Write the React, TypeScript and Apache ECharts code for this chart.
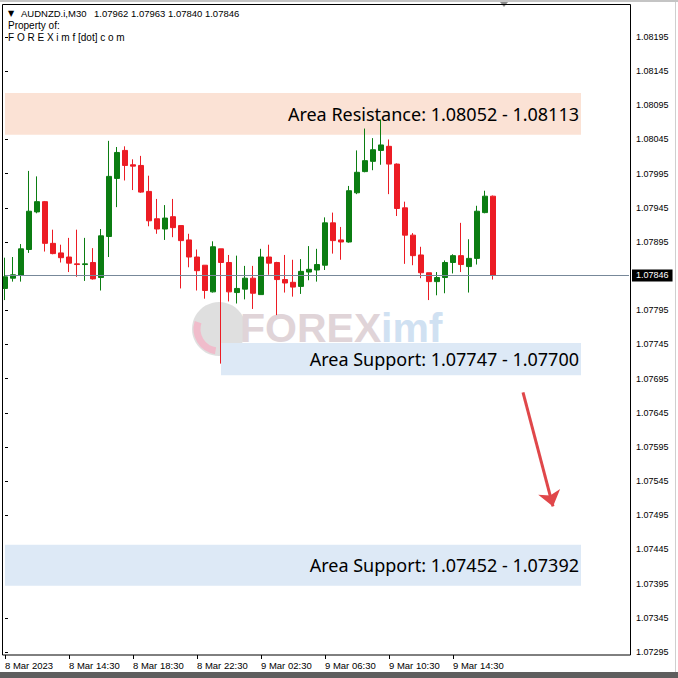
import React, { useEffect, useRef } from 'react';
import * as echarts from 'echarts';

// 30-minute bars, AUDNZD.i M30
const times = [
  '8 Mar 10:30', '8 Mar 11:00', '8 Mar 11:30', '8 Mar 12:00', '8 Mar 12:30', '8 Mar 13:00', '8 Mar 13:30', '8 Mar 14:00',
  '8 Mar 14:30', '8 Mar 15:00', '8 Mar 15:30', '8 Mar 16:00', '8 Mar 16:30', '8 Mar 17:00', '8 Mar 17:30', '8 Mar 18:00',
  '8 Mar 18:30', '8 Mar 19:00', '8 Mar 19:30', '8 Mar 20:00', '8 Mar 20:30', '8 Mar 21:00', '8 Mar 21:30', '8 Mar 22:00',
  '8 Mar 22:30', '8 Mar 23:00', '8 Mar 23:30', '9 Mar 00:00', '9 Mar 00:30', '9 Mar 01:00', '9 Mar 01:30', '9 Mar 02:00',
  '9 Mar 02:30', '9 Mar 03:00', '9 Mar 03:30', '9 Mar 04:00', '9 Mar 04:30', '9 Mar 05:00', '9 Mar 05:30', '9 Mar 06:00',
  '9 Mar 06:30', '9 Mar 07:00', '9 Mar 07:30', '9 Mar 08:00', '9 Mar 08:30', '9 Mar 09:00', '9 Mar 09:30', '9 Mar 10:00',
  '9 Mar 10:30', '9 Mar 11:00', '9 Mar 11:30', '9 Mar 12:00', '9 Mar 12:30', '9 Mar 13:00', '9 Mar 13:30', '9 Mar 14:00',
  '9 Mar 14:30', '9 Mar 15:00', '9 Mar 15:30', '9 Mar 16:00', '9 Mar 16:30', '9 Mar 17:00',
];

const opens = [
  1.07827, 1.07842, 1.07846, 1.07884, 1.07939, 1.07954, 1.07893, 1.07879, 1.07873, 1.07863,
  1.07862, 1.07865, 1.07843, 1.07903, 1.07988, 1.08029, 1.08008, 1.08007, 1.07969, 1.07929,
  1.07914, 1.07932, 1.07919, 1.07898, 1.07873, 1.07861, 1.07822, 1.07885, 1.07865, 1.07821,
  1.07826, 1.07842, 1.07818, 1.07873, 1.07865, 1.07840, 1.07836, 1.07830, 1.07851, 1.07854,
  1.07861, 1.07923, 1.07898, 1.07895, 1.07967, 1.07998, 1.08013, 1.08029, 1.08035, 1.08009,
  1.07945, 1.07905, 1.07876, 1.07850, 1.07837, 1.07843, 1.07865, 1.07875, 1.07859, 1.07871,
  1.07938, 1.07962,
];
const closes = [
  1.07844, 1.07847, 1.07885, 1.07940, 1.07954, 1.07893, 1.07878, 1.07872, 1.07864, 1.07862,
  1.07863, 1.07841, 1.07904, 1.07991, 1.08026, 1.08007, 1.08006, 1.07968, 1.07926, 1.07914,
  1.07930, 1.07916, 1.07897, 1.07873, 1.07853, 1.07824, 1.07888, 1.07865, 1.07822, 1.07827,
  1.07842, 1.07820, 1.07873, 1.07864, 1.07840, 1.07835, 1.07829, 1.07852, 1.07855, 1.07862,
  1.07923, 1.07897, 1.07895, 1.07970, 1.07997, 1.08014, 1.08030, 1.08037, 1.08009, 1.07944,
  1.07905, 1.07875, 1.07850, 1.07837, 1.07843, 1.07865, 1.07875, 1.07862, 1.07871, 1.07940,
  1.07962, 1.07846,
];
const lows = [
  1.07810, 1.07837, 1.07837, 1.07879, 1.07937, 1.07881, 1.07877, 1.07865, 1.07851, 1.07844,
  1.07838, 1.07840, 1.07824, 1.07873, 1.07946, 1.07985, 1.07971, 1.07967, 1.07918, 1.07907,
  1.07898, 1.07902, 1.07827, 1.07858, 1.07824, 1.07812, 1.07821, 1.07717, 1.07808, 1.07805,
  1.07811, 1.07797, 1.07818, 1.07847, 1.07788, 1.07821, 1.07815, 1.07819, 1.07839, 1.07837,
  1.07854, 1.07878, 1.07869, 1.07894, 1.07965, 1.07997, 1.08000, 1.08008, 1.07965, 1.07933,
  1.07863, 1.07861, 1.07842, 1.07810, 1.07817, 1.07820, 1.07849, 1.07851, 1.07821, 1.07862,
  1.07937, 1.07840,
];
const highs = [
  1.07872, 1.07873, 1.07892, 1.07999, 1.07991, 1.07955, 1.07913, 1.07891, 1.07901, 1.07913,
  1.07901, 1.07886, 1.07914, 1.08043, 1.08034, 1.08035, 1.08016, 1.08021, 1.07992, 1.07958,
  1.07949, 1.07958, 1.07919, 1.07907, 1.07884, 1.07861, 1.07896, 1.07885, 1.07876, 1.07875,
  1.07860, 1.07860, 1.07885, 1.07891, 1.07866, 1.07876, 1.07869, 1.07870, 1.07889, 1.07885,
  1.07931, 1.07938, 1.07917, 1.07977, 1.08029, 1.08061, 1.08047, 1.08074, 1.08045, 1.08010,
  1.07954, 1.07908, 1.07888, 1.07850, 1.07851, 1.07868, 1.07877, 1.07923, 1.07899, 1.07948,
  1.07970, 1.07963,
];

const xTickLabels = ['8 Mar 2023', '8 Mar 14:30', '8 Mar 18:30', '8 Mar 22:30', '9 Mar 02:30', '9 Mar 06:30', '9 Mar 10:30', '9 Mar 14:30'];
const yTickValues = [
  1.07295, 1.07345, 1.07395, 1.07445, 1.07495, 1.07545, 1.07595, 1.07645, 1.07695, 1.07745,
  1.07795, 1.07895, 1.07945, 1.07995, 1.08045, 1.08095, 1.08145, 1.08195,
];

const zoneNames = ['Area Resistance: 1.08052 - 1.08113', 'Area Support: 1.07747 - 1.07700', 'Area Support: 1.07452 - 1.07392'];
const zoneHigh = [1.08113, 1.07747, 1.07452];
const zoneLow = [1.08052, 1.07700, 1.07392];
const zoneStart = [-0.25, 27, -0.25];
const zoneEnd = [72, 72, 72];
const zoneColors = ['#fbe2d5', '#dde9f6', '#dde9f6'];

const arrowFrom = [64.75, 1.07675];
const arrowTo = [68.5, 1.07508];

const TOTAL_SLOTS = 79;
const Y_MIN = 1.072906;
const Y_MAX = 1.082418;

export default function App() {
  const ref = useRef<HTMLDivElement>(null);

  useEffect(() => {
    if (!ref.current) return;
    const chart = echarts.init(ref.current, undefined, { renderer: 'svg' });

    const pad = Array.from({ length: TOTAL_SLOTS - times.length }, (_, i) => 'future ' + (i + 1));
    const categories = times.concat(pad);
    const candles = opens.map((o, i) => [o, closes[i], lows[i], highs[i]]);
    const last = candles.length - 1;
    const headerValues = [opens[last], highs[last], lows[last], closes[last]].map((v) => v.toFixed(5)).join(' ');

    const bull = '#0b7d12';
    const bear = '#ec1c24';
    const labelFont = 'Liberation Sans, Arial, sans-serif';
    const showTick = (i: number) => i % 8 === 0 && i / 8 < xTickLabels.length;

    const zones = zoneNames.map((name, i) => [
      {
        name,
        xAxis: zoneStart[i],
        yAxis: zoneHigh[i],
        itemStyle: { color: zoneColors[i], opacity: 1 },
        label: {
          show: true,
          position: 'insideRight',
          distance: 2,
          formatter: '{b}',
          color: '#000',
          fontSize: 18,
          fontFamily: 'Noto Sans, sans-serif',
        },
      },
      { xAxis: zoneEnd[i], yAxis: zoneLow[i] },
    ]);

    chart.setOption({
      animation: false,
      backgroundColor: '#ffffff',
      grid: { left: 5, right: 49, top: 5, bottom: 23, containLabel: false },
      xAxis: [
        {
          type: 'category',
          data: categories,
          boundaryGap: false,
          axisLine: { show: false },
          axisTick: {
            show: true,
            length: 4,
            interval: (i: number) => showTick(i),
            lineStyle: { color: '#000' },
          },
          axisLabel: {
            show: true,
            interval: (i: number) => showTick(i),
            formatter: (_v: string, i: number) => xTickLabels[i / 8] ?? '',
            align: 'left',
            margin: 5,
            color: '#000',
            fontSize: 9.5,
            fontFamily: labelFont,
          },
          splitLine: { show: false },
        },
        {
          type: 'value',
          min: 0,
          max: TOTAL_SLOTS - 1,
          show: false,
        },
      ],
      yAxis: {
        type: 'value',
        position: 'right',
        offset: 1,
        min: Y_MIN,
        max: Y_MAX,
        scale: true,
        axisLine: { show: false },
        axisTick: {
          show: true,
          length: 3,
          customValues: yTickValues,
          lineStyle: { color: '#000' },
        },
        axisLabel: {
          show: true,
          customValues: yTickValues,
          formatter: (v: number) => v.toFixed(5),
          margin: 6,
          color: '#000',
          fontSize: 9,
          fontFamily: labelFont,
        },
        splitLine: { show: false },
      },
      graphic: [
        { type: 'rect', z: 0, shape: { x: 0, y: 0, width: 678, height: 2 }, style: { fill: '#c4c4c4' } },
        { type: 'rect', z: 0, shape: { x: 0, y: 672, width: 678, height: 6 }, style: { fill: '#5e5e5e' } },
        { type: 'line', z: 0, shape: { x1: 675.5, y1: 2, x2: 675.5, y2: 672 }, style: { stroke: '#cfcfcf', lineWidth: 1 } },
        { type: 'polygon', z: 0, shape: { points: [[500, 2], [508, 2], [504, 7]] }, style: { fill: '#8a8a8a' } },
        // watermark
        { type: 'circle', z: 0, shape: { cx: 219, cy: 329, r: 27 }, style: { fill: '#d9d9d9', opacity: 0.85 } },
        { type: 'arc', z: 0, shape: { cx: 219, cy: 329, r: 22, startAngle: Math.PI * 0.55, endAngle: Math.PI * 1.1 }, style: { stroke: '#f0bccb', lineWidth: 7, fill: 'none' } },
        { type: 'text', z: 0, x: 240, y: 328, style: { text: 'FOREX', fill: '#e0d4d8', font: 'bold 41px Liberation Sans, Arial, sans-serif', textVerticalAlign: 'middle' } },
        { type: 'text', z: 0, x: 381, y: 328, style: { text: 'imf', fill: '#d0e1f2', font: 'bold 41px Liberation Sans, Arial, sans-serif', textVerticalAlign: 'middle' } },
        // header
        { type: 'text', z: 10, x: 8, y: 13, style: { text: '\u25BC', fill: '#000', font: '8px DejaVu Sans, sans-serif', textVerticalAlign: 'middle' } },
        { type: 'text', z: 10, x: 21, y: 13, style: { text: 'AUDNZD.i,M30', fill: '#000', font: '9.5px Liberation Sans, Arial, sans-serif', textVerticalAlign: 'middle' } },
        { type: 'text', z: 10, x: 94, y: 13, style: { text: headerValues, fill: '#000', font: '9.5px Liberation Sans, Arial, sans-serif', textVerticalAlign: 'middle' } },
        { type: 'text', z: 10, x: 8, y: 25, style: { text: 'Property of:', fill: '#000', font: '10px Liberation Sans, Arial, sans-serif', textVerticalAlign: 'middle' } },
        { type: 'text', z: 10, x: 8, y: 37, style: { text: 'F O R E X i m f [dot] c o m', fill: '#000', font: '10px Liberation Sans, Arial, sans-serif', textVerticalAlign: 'middle' } },
        // chart frame
        { type: 'rect', z: 20, shape: { x: 2.5, y: 4.5, width: 628, height: 650.5 }, style: { fill: 'none', stroke: '#000', lineWidth: 1 } },
      ],
      series: [
        {
          name: 'zones',
          type: 'line',
          xAxisIndex: 1,
          data: [],
          silent: true,
          z: 1,
          markArea: {
            silent: true,
            data: zones,
          },
          markLine: {
            silent: true,
            precision: 5,
            symbol: ['none', 'arrow'],
            symbolSize: [17, 15],
            label: { show: false },
            lineStyle: { color: '#e0474a', width: 3, type: 'solid' },
            data: [[{ coord: arrowFrom }, { coord: arrowTo }]],
          },
        },
        {
          name: 'price',
          type: 'line',
          xAxisIndex: 1,
          data: [],
          silent: true,
          z: 2,
          markLine: {
            silent: true,
            precision: 5,
            symbol: 'none',
            lineStyle: { color: '#778899', width: 1, type: 'solid' },
            label: {
              show: true,
              position: 'end',
              distance: 3,
              formatter: () => closes[last].toFixed(5),
              backgroundColor: '#000',
              color: '#fff',
              padding: [2, 4, 1, 4],
              fontSize: 9,
              fontFamily: labelFont,
            },
            data: [{ yAxis: closes[last] }],
          },
        },
        {
          name: 'AUDNZD.i',
          type: 'candlestick',
          xAxisIndex: 0,
          data: candles,
          barWidth: 5,
          clip: false,
          z: 3,
          itemStyle: {
            color: bull,
            color0: bear,
            borderColor: bull,
            borderColor0: bear,
            borderColorDoji: bear,
            borderWidth: 1,
          },
        },
      ],
    });

    return () => chart.dispose();
  }, []);

  return (
    <div
      ref={ref}
      style={{ position: 'fixed', left: 0, top: 0, width: 678, height: 678, background: '#fff' }}
    />
  );
}
